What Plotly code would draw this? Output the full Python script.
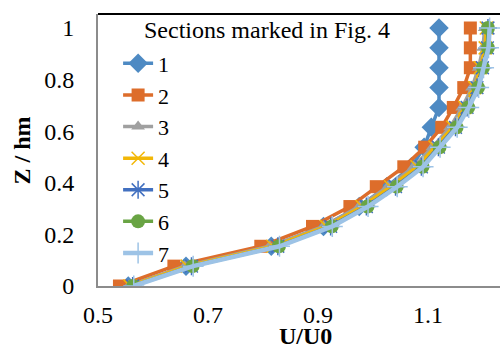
import plotly.graph_objects as go

# Normalised height Z / hm for every measured level
z_hm = [0, 0.077, 0.154, 0.231, 0.308, 0.385, 0.462, 0.538, 0.615, 0.692, 0.769, 0.846, 0.923, 1.0]

# Velocity ratio U/U0 for each section
u_sec1 = [0.555, 0.660, 0.815, 0.910, 0.975, 1.025, 1.070, 1.093, 1.106, 1.120, 1.120, 1.120, 1.120, 1.120]
u_sec2 = [0.539, 0.638, 0.796, 0.890, 0.958, 1.006, 1.056, 1.094, 1.125, 1.146, 1.165, 1.177, 1.177, 1.177]
u_sec3 = [0.556, 0.658, 0.812, 0.910, 0.975, 1.027, 1.074, 1.108, 1.140, 1.162, 1.180, 1.192, 1.200, 1.203]
u_sec4 = [0.558, 0.662, 0.818, 0.915, 0.980, 1.032, 1.080, 1.113, 1.145, 1.167, 1.185, 1.195, 1.204, 1.206]
u_sec5 = [0.563, 0.670, 0.827, 0.923, 0.988, 1.041, 1.088, 1.119, 1.150, 1.171, 1.189, 1.199, 1.208, 1.209]
u_sec6 = [0.564, 0.672, 0.829, 0.925, 0.990, 1.043, 1.090, 1.121, 1.152, 1.173, 1.191, 1.200, 1.209, 1.209]
u_sec7 = [0.565, 0.673, 0.830, 0.926, 0.991, 1.044, 1.091, 1.122, 1.153, 1.174, 1.192, 1.201, 1.210, 1.212]

section_names = ["1", "2", "3", "4", "5", "6", "7"]
x_ticks = [0.5, 0.7, 0.9, 1.1]
y_ticks = [0, 0.2, 0.4, 0.6, 0.8, 1]

profiles = [u_sec1, u_sec2, u_sec3, u_sec4, u_sec5, u_sec6, u_sec7]

# Series styling: colour, marker symbol, marker size, line width
styles = [
    ("#4E8AC3", "diamond", 15, 3.5),
    ("#DD6D2B", "square", 13, 3.5),
    ("#A0A0A0", "triangle-up", 12, 3.5),
    ("#F2B707", "x-thin-open", 13, 3.5),
    ("#4270C0", "asterisk-open", 15, 3.5),
    ("#69A444", "circle", 14, 3.5),
    ("#9DC3E6", "cross-thin-open", 15, 4.5),
]

FONT = "Liberation Serif"

fig = go.Figure()
for name, u, (color, symbol, size, lw) in zip(section_names, profiles, styles):
    open_sym = symbol.endswith("-open")
    fig.add_trace(go.Scatter(
        x=u, y=z_hm, name=name, mode="lines+markers",
        line=dict(color=color, width=lw),
        marker=dict(
            symbol=symbol, size=size, color=color,
            line=dict(color=color, width=1.5 if open_sym else 0),
        ),
    ))

plot_left, plot_right, plot_top, plot_bottom = 98, 500, 14, 286

fig.update_layout(
    width=500, height=347,
    margin=dict(l=plot_left, r=500 - plot_right, t=plot_top, b=347 - plot_bottom, pad=0),
    paper_bgcolor="white", plot_bgcolor="white",
    font=dict(family=FONT, size=24, color="black"),
    showlegend=True,
    legend=dict(
        x=0.05, y=0.895, xanchor="left", yanchor="top",
        bgcolor="rgba(0,0,0,0)", borderwidth=0,
        font=dict(family=FONT, size=22, color="black"),
        itemclick=False,
    ),
    xaxis=dict(
        range=[0.5, 0.5 + (plot_right - plot_left) / 550],
        tickvals=x_ticks, ticktext=[f"{v:g}" for v in x_ticks],
        showgrid=False, zeroline=False,
        showline=True, linecolor="#8C8C8C", linewidth=2,
        ticks="", ticklabelstandoff=6,
        tickfont=dict(family=FONT, size=24, color="black"),
    ),
    yaxis=dict(
        range=[0, (plot_bottom - plot_top) / 258],
        tickvals=y_ticks, ticktext=[f"{v:g}" for v in y_ticks],
        showgrid=False, zeroline=False,
        showline=True, linecolor="#8C8C8C", linewidth=2,
        ticks="", ticklabelstandoff=17,
        tickfont=dict(family=FONT, size=24, color="black"),
    ),
    shapes=[dict(type="line", xref="paper", yref="paper", x0=0, x1=1, y0=1, y1=1,
                 line=dict(color="black", width=2))],
    annotations=[
        dict(text="Sections marked in Fig. 4", xref="paper", yref="paper",
             x=0.42, y=0.94, xanchor="center", yanchor="middle", showarrow=False,
             font=dict(family=FONT, size=24, color="black")),
        dict(text="<b>U/U0</b>", xref="paper", yref="paper",
             x=0.517, y=-0.13, xanchor="center", yanchor="top", showarrow=False,
             font=dict(family=FONT, size=24, color="black")),
        dict(text="<b>Z / hm</b>", xref="paper", yref="paper", textangle=-90,
             x=-0.188, y=0.5, xanchor="center", yanchor="middle", showarrow=False,
             font=dict(family=FONT, size=24, color="black")),
    ],
)

fig.write_html("out.html")
